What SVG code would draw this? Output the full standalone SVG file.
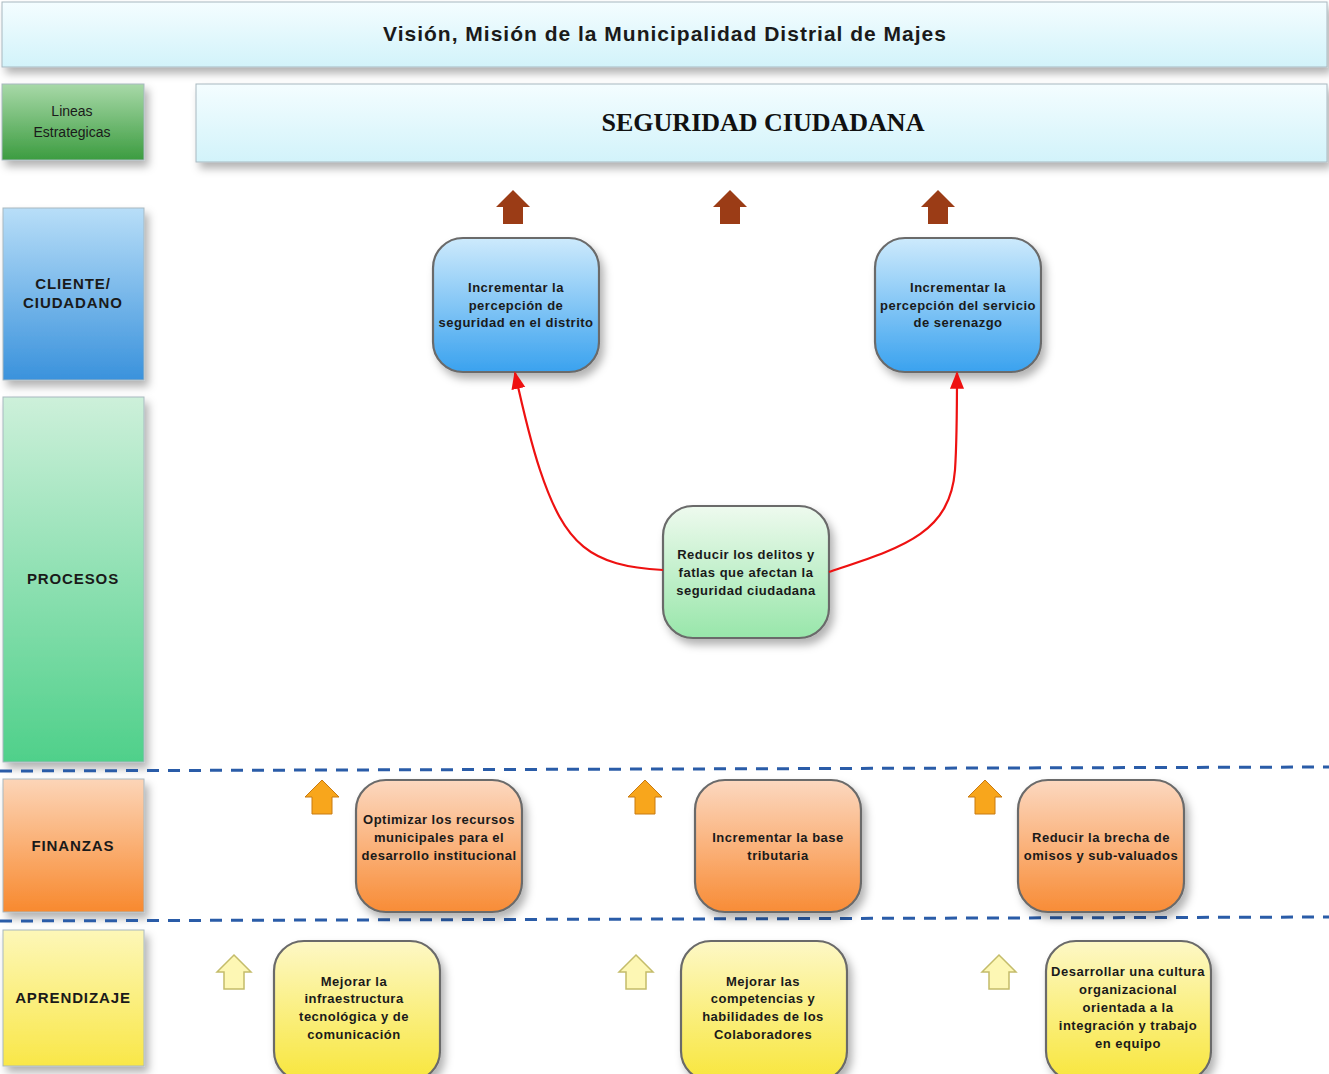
<svg xmlns="http://www.w3.org/2000/svg" width="1329" height="1074" viewBox="0 0 1329 1074">
<defs>
<linearGradient id="gHead" x1="0" y1="0" x2="0" y2="1"><stop offset="0" stop-color="#f4fdff"/><stop offset="1" stop-color="#d2f3fa"/></linearGradient>
<linearGradient id="gLin" x1="0" y1="0" x2="0" y2="1"><stop offset="0" stop-color="#a8d9a8"/><stop offset="1" stop-color="#3c9c40"/></linearGradient>
<linearGradient id="gCli" x1="0" y1="0" x2="0" y2="1"><stop offset="0" stop-color="#b8def8"/><stop offset="1" stop-color="#3a92dc"/></linearGradient>
<linearGradient id="gPro" x1="0" y1="0" x2="0" y2="1"><stop offset="0" stop-color="#cdf0da"/><stop offset="1" stop-color="#4fd08a"/></linearGradient>
<linearGradient id="gFin" x1="0" y1="0" x2="0" y2="1"><stop offset="0" stop-color="#fcd5b8"/><stop offset="1" stop-color="#f8892e"/></linearGradient>
<linearGradient id="gApr" x1="0" y1="0" x2="0" y2="1"><stop offset="0" stop-color="#fdf7b8"/><stop offset="1" stop-color="#f9e748"/></linearGradient>
<linearGradient id="nBlue" x1="0" y1="0" x2="0" y2="1"><stop offset="0" stop-color="#cdeafc"/><stop offset="1" stop-color="#3aa2ef"/></linearGradient>
<linearGradient id="nGreen" x1="0" y1="0" x2="0" y2="1"><stop offset="0" stop-color="#eefaee"/><stop offset="1" stop-color="#98e6aa"/></linearGradient>
<linearGradient id="nOrange" x1="0" y1="0" x2="0" y2="1"><stop offset="0" stop-color="#fcd8c0"/><stop offset="1" stop-color="#f88c36"/></linearGradient>
<linearGradient id="nYellow" x1="0" y1="0" x2="0" y2="1"><stop offset="0" stop-color="#fdf8c6"/><stop offset="1" stop-color="#f8e63c"/></linearGradient>
<filter id="sh" x="-20%" y="-20%" width="150%" height="150%"><feDropShadow dx="4" dy="6" stdDeviation="4" flood-color="#000" flood-opacity="0.3"/></filter>
<marker id="ar" viewBox="0 0 10 10" refX="9" refY="5" markerWidth="8" markerHeight="8" orient="auto"><path d="M0,1 L10,5 L0,9 z" fill="#ee1111"/></marker>
<path id="arrowUp" d="M0,-17 L17,0 L10,0 L10,17 L-10,17 L-10,0 L-17,0 z"/>
</defs>
<style>
.t{font-family:"Liberation Sans",Arial,sans-serif;fill:#1a1a1a;text-anchor:middle}
.b{font-weight:bold}
.n{font-size:13px;font-weight:bold;letter-spacing:0.5px}
.lab{font-size:15px;font-weight:bold;letter-spacing:0.9px}
.band{stroke:#a8b8c0;stroke-width:1;filter:url(#sh)}
.node{stroke:#6a6a6a;stroke-width:2.2;filter:url(#sh)}
.dash{stroke:#2a5ca8;stroke-width:3;stroke-dasharray:12 9;fill:none}
.red{stroke:#ee1111;stroke-width:2.2;fill:none;marker-end:url(#ar)}
.brown{fill:#9b3c16}
.orange{fill:#f8a61c;stroke:#c87a10;stroke-width:1}
.yel{fill:#fdf7b4;stroke:#c4bc6a;stroke-width:1.5}
</style>

<g id="header">
<rect class="band" x="2" y="2" width="1325" height="65" fill="url(#gHead)"/>
<text class="t b" x="665" y="41" font-size="21" letter-spacing="1">Visión, Misión de la Municipalidad Distrial de Majes</text>
</g>
<g id="lineas">
<rect class="band" x="2" y="84" width="142" height="76" fill="url(#gLin)"/>
<text class="t" x="72" y="116" font-size="14" fill="#2a2a2a">Lineas</text>
<text class="t" x="72" y="137" font-size="14" fill="#2a2a2a">Estrategicas</text>
</g>
<g id="seguridad">
<rect class="band" x="196" y="84" width="1131" height="78" fill="url(#gHead)"/>
<text x="763" y="131" font-family="'Liberation Serif','Times New Roman',serif" font-weight="bold" font-size="26" text-anchor="middle" fill="#111">SEGURIDAD CIUDADANA</text>
</g>
<g id="cliente">
<rect class="band" x="3" y="208" width="141" height="172" fill="url(#gCli)"/>
<text class="t lab" x="73" y="289">CLIENTE/</text>
<text class="t lab" x="73" y="308">CIUDADANO</text>
</g>
<g id="procesos">
<rect class="band" x="3" y="397" width="141" height="365" fill="url(#gPro)"/>
<text class="t lab" x="73" y="584">PROCESOS</text>
</g>
<g id="finanzas">
<rect class="band" x="3" y="779" width="141" height="133" fill="url(#gFin)"/>
<text class="t lab" x="73" y="851">FINANZAS</text>
</g>
<g id="aprendizaje">
<rect class="band" x="3" y="930" width="141" height="136" fill="url(#gApr)"/>
<text class="t lab" x="73" y="1003">APRENDIZAJE</text>
</g>

<g id="separators">
<line class="dash" x1="0" y1="771" x2="1329" y2="767"/>
<line class="dash" x1="0" y1="921" x2="1329" y2="917"/>
</g>

<g id="arrows-up">
<use href="#arrowUp" class="brown" x="513" y="207"/>
<use href="#arrowUp" class="brown" x="730" y="207"/>
<use href="#arrowUp" class="brown" x="938" y="207"/>
<use href="#arrowUp" class="orange" x="322" y="797"/>
<use href="#arrowUp" class="orange" x="645" y="797"/>
<use href="#arrowUp" class="orange" x="985" y="797"/>
<use href="#arrowUp" class="yel" x="234" y="972"/>
<use href="#arrowUp" class="yel" x="636" y="972"/>
<use href="#arrowUp" class="yel" x="999" y="972"/>
</g>

<g id="n-cli1">
<rect class="node" x="433" y="238" width="166" height="134" rx="30" fill="url(#nBlue)"/>
<text class="t n" x="516" y="292">Incrementar la</text>
<text class="t n" x="516" y="310">percepción de</text>
<text class="t n" x="516" y="327">seguridad en el distrito</text>
</g>
<g id="n-cli2">
<rect class="node" x="875" y="238" width="166" height="134" rx="30" fill="url(#nBlue)"/>
<text class="t n" x="958" y="292">Incrementar la</text>
<text class="t n" x="958" y="310">percepción del servicio</text>
<text class="t n" x="958" y="327">de serenazgo</text>
</g>
<g id="n-pro">
<rect class="node" x="663" y="506" width="166" height="132" rx="30" fill="url(#nGreen)"/>
<text class="t n" x="746" y="559">Reducir los delitos y</text>
<text class="t n" x="746" y="577">fatlas que afectan la</text>
<text class="t n" x="746" y="595">seguridad ciudadana</text>
</g>
<g id="n-fin1">
<rect class="node" x="356" y="780" width="166" height="132" rx="30" fill="url(#nOrange)"/>
<text class="t n" x="439" y="824">Optimizar los recursos</text>
<text class="t n" x="439" y="842">municipales para el</text>
<text class="t n" x="439" y="860">desarrollo institucional</text>
</g>
<g id="n-fin2">
<rect class="node" x="695" y="780" width="166" height="132" rx="30" fill="url(#nOrange)"/>
<text class="t n" x="778" y="842">Incrementar la base</text>
<text class="t n" x="778" y="860">tributaria</text>
</g>
<g id="n-fin3">
<rect class="node" x="1018" y="780" width="166" height="132" rx="30" fill="url(#nOrange)"/>
<text class="t n" x="1101" y="842">Reducir la brecha de</text>
<text class="t n" x="1101" y="860">omisos y sub-valuados</text>
</g>
<g id="n-apr1">
<rect class="node" x="274" y="941" width="166" height="140" rx="30" fill="url(#nYellow)"/>
<text class="t n" x="354" y="986">Mejorar la</text>
<text class="t n" x="354" y="1003">infraestructura</text>
<text class="t n" x="354" y="1021">tecnológica y de</text>
<text class="t n" x="354" y="1039">comunicación</text>
</g>
<g id="n-apr2">
<rect class="node" x="681" y="941" width="166" height="140" rx="30" fill="url(#nYellow)"/>
<text class="t n" x="763" y="986">Mejorar las</text>
<text class="t n" x="763" y="1003">competencias y</text>
<text class="t n" x="763" y="1021">habilidades de los</text>
<text class="t n" x="763" y="1039">Colaboradores</text>
</g>
<g id="n-apr3">
<rect class="node" x="1046" y="941" width="165" height="140" rx="30" fill="url(#nYellow)"/>
<text class="t n" x="1128" y="976">Desarrollar una cultura</text>
<text class="t n" x="1128" y="994">organizacional</text>
<text class="t n" x="1128" y="1012">orientada a la</text>
<text class="t n" x="1128" y="1030">integración y trabajo</text>
<text class="t n" x="1128" y="1048">en equipo</text>
</g>

<g id="connectors">
<path class="red" d="M663,570 C590,566 565,545 540,470 C530,440 522,405 515,373"/>
<path class="red" d="M829,572 C900,548 950,535 955,470 C957,440 957,405 957,373"/>
</g>
</svg>
